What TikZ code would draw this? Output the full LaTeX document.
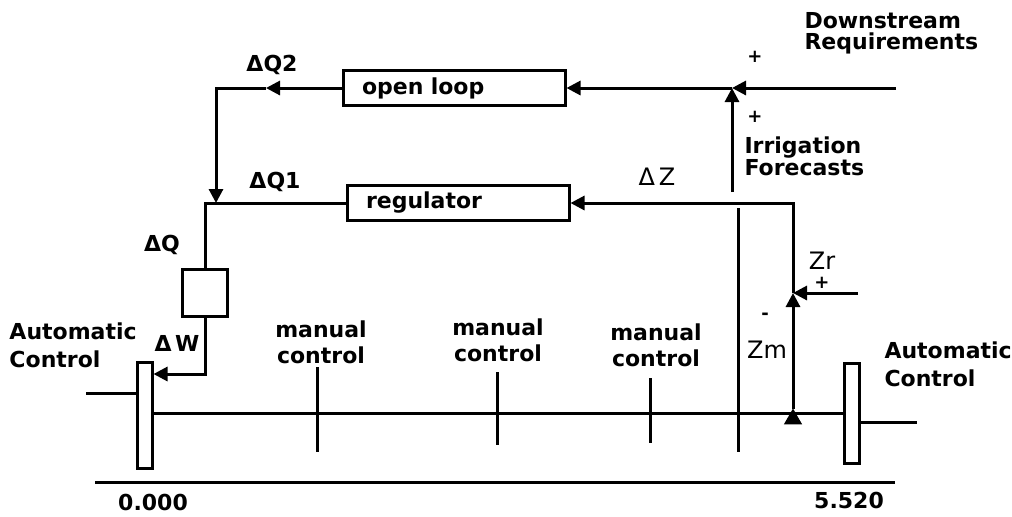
\documentclass[tikz,border=0pt]{standalone}
\usepackage{fontspec}
\setmainfont{DejaVu Sans}
\usetikzlibrary{arrows.meta, shapes.geometric}

\begin{document}
\begin{tikzpicture}[x=0.5pt, y=-0.5pt, line width=1.5pt,
    font=\bfseries\fontsize{11}{13}\selectfont,
    block/.style={draw, minimum height=17.5pt, text width=92pt,
      inner xsep=9.5pt, inner ysep=0pt, align=left},
    gate/.style={draw, minimum width=7.5pt, inner sep=0pt},
    flow/.style={-{Triangle[length=7pt, width=7pt]}},
    thin label/.style={font=\mdseries\fontsize{12}{13}\selectfont},
    sign/.style={font=\bfseries\small, inner sep=0pt},
    side text/.style={anchor=west, align=left, inner sep=0pt}]
  \useasboundingbox (0, 0) rectangle (1012, 516);

  % blocks and gates
  \node[block] (openloop) at (454, 88) {open loop};
  \node[block] (regulator) at (458, 203) {regulator};
  \node[draw, minimum width=22.5pt, minimum height=23.5pt] (valve) at (205, 293) {};
  \node[gate, minimum height=53pt] (gateL) at (144.5, 415) {};
  \node[gate, minimum height=50pt] (gateR) at (851.5, 413) {};
  \node[draw, fill, regular polygon, regular polygon sides=3,
    minimum size=7.5pt, inner sep=0pt] (sensor) at (793, 419) {};

  \coordinate (sumQ) at (732, 88);
  \coordinate (sumZ) at (793, 293);
  \coordinate (downin) at (896, 88);
  \coordinate (forecast) at (732, 192);
  \coordinate (zrin) at (858, 293);
  \coordinate (q2arrow) at (266, 88);
  \coordinate (q1join) at (216, 203);
  \coordinate (dwturn) at (205, 374);
  \coordinate (inflow) at (86, 393);
  \coordinate (outflow) at (917, 422);
  \coordinate (limtop) at (738, 208);
  \coordinate (limbot) at (738, 452);

  % feedforward loop
  \draw[flow] (downin) -- (sumQ);
  \draw[flow] (forecast) -- (sumQ);
  \draw[flow] (sumQ) -- (openloop.east);
  \draw[flow] (openloop.west) -- (q2arrow);
  \draw[flow] (q2arrow) -- (q1join |- q2arrow) -- (q1join);

  % feedback loop
  \draw[flow] (sensor.north) -- (sumZ);
  \draw[flow] (zrin) -- (sumZ);
  \draw[flow] (sumZ) -- (sumZ |- regulator.east) -- (regulator.east);
  \draw (regulator.west) -- (regulator.west -| valve.north) -- (valve.north);
  \draw[flow] (valve.south) -- (dwturn) -- (dwturn -| gateL.east);

  % canal
  \draw (gateL.east |- gateR.west) -- (gateR.west);
  \draw (inflow) -- (inflow -| gateL.west);
  \draw (gateR.east |- outflow) -- (outflow);
  \draw (limtop) -- (limbot);
  \foreach \x/\ya/\yb/\lx/\ly in {317/367/452/321/342, 497/372/445/498/340, 650/378/443/656/345} {
    \draw (\x, \ya) -- (\x, \yb);
    \node[align=center] (manual\x) at (\lx, \ly) {manual\\control};
  }
  \draw (95, 482) -- (895, 482);
  \node (start) at (153, 502) {0.000};
  \node (end) at (849, 500) {5.520};

  % labels
  \node (dq2) at (272, 65) {ΔQ2};
  \node (dq1) at (275, 182) {ΔQ1};
  \node (dq) at (162, 245) {ΔQ};
  \node (dw) at (177, 343) {Δ\,W};
  \node[thin label] (dz) at (657, 177) {Δ\,Z};
  \node[sign] (plusA) at (755, 57) {+};
  \node[sign] (plusB) at (755, 117) {+};
  \node[side text, font=\bfseries\fontsize{11}{10.5}\selectfont]
    (downstream) at (803, 33) {Downstream\\Requirements};
  \node[side text, font=\bfseries\fontsize{11}{11}\selectfont]
    (irrigation) at (743, 156) {Irrigation\\Forecasts};
  \node[thin label, inner sep=0pt] (zr) at (822, 261) {Zr};
  \node[sign] (plusC) at (822, 283) {+};
  \node[sign] (minus) at (765, 316) {-};
  \node[thin label] (zm) at (767, 350) {Zm};
  \node[side text, font=\bfseries\fontsize{11}{14}\selectfont]
    (autoL) at (8, 345) {Automatic\\Control};
  \node[side text, font=\bfseries\fontsize{11}{14}\selectfont]
    (autoR) at (883, 364) {Automatic\\Control};
\end{tikzpicture}
\end{document}
